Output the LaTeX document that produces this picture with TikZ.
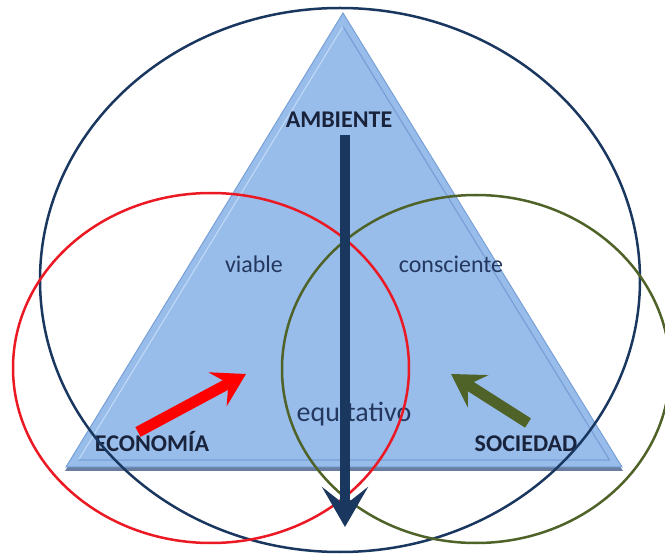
\documentclass[tikz,border=0pt]{standalone}
\usepackage{fontspec}
\setmainfont{Carlito}
\usetikzlibrary{calc,arrows.meta}

\definecolor{triFill}{RGB}{153,189,234}
\definecolor{triEdge}{RGB}{120,160,215}
\definecolor{triLight}{RGB}{190,215,245}
\definecolor{triShade}{RGB}{105,125,160}
\definecolor{navy}{RGB}{25,55,95}
\definecolor{ringRed}{RGB}{235,25,35}
\definecolor{ringGreen}{RGB}{79,98,40}
\definecolor{ink}{RGB}{25,35,60}
\definecolor{softInk}{RGB}{35,55,95}

\tikzset{
  ring/.style={line width=2.5pt},
  bold label/.style={font=\fontsize{24}{28}\selectfont\bfseries, text=ink, inner sep=0pt, anchor=base},
  soft label/.style={font=\fontsize{24}{28}\selectfont, text=softInk, inner sep=0pt, anchor=base},
}

\begin{document}
\begin{tikzpicture}[x=1pt, y=-1pt]
  \useasboundingbox (0,0) rectangle (665,556);
  % esquinas del triangulo y su incentro
  \coordinate (T) at (343,13);
  \coordinate (L) at (66,467);
  \coordinate (R) at (622,467);
  \coordinate (I) at (343.5,311);
  % sombra, cuerpo y bisel
  \fill[triShade] ($(L)+(-1,4)$) -- ($(R)+(1,4)$) -- ($(T)+(0,4)$) -- cycle;
  \fill[triFill, draw=triEdge, line width=1pt] (L) -- (R) -- (T) -- cycle;
  \draw[triLight, line width=1.2pt] ($(I)!0.955!(L)$) -- ($(I)!0.955!(T)$);
  \draw[triEdge, line width=1.2pt] ($(I)!0.955!(T)$) -- ($(I)!0.955!(R)$) -- ($(I)!0.955!(L)$);

  % textos
  \node[bold label] (ambiente) at (339,128) {AMBIENTE};
  \node[bold label] (economia) at (152,452) {ECONOMÍA};
  \node[bold label] (sociedad) at (526,452) {SOCIEDAD};
  \node[soft label] (viable) at (254,273) {viable};
  \node[soft label] (consciente) at (451,273) {consciente};
  \node[soft label, font=\fontsize{28}{32}\selectfont] (equitativo) at (354,422) {equitativo};

  % anillos
  \coordinate (cA) at (340,280);
  \coordinate (cE) at (211,368);
  \coordinate (cS) at (476,369);
  \draw[ring, navy] (cA) ellipse [x radius=300, y radius=272];
  \draw[ring, ringRed] (cE) ellipse [x radius=198, y radius=175];
  \draw[ring, ringGreen] (cS) ellipse [x radius=194, y radius=174];

  % flechas
  \coordinate (a1) at (345,135);
  \coordinate (a2) at (345,527);
  \coordinate (e1) at (138,432);
  \coordinate (e2) at (246,374);
  \coordinate (s1) at (528,423);
  \coordinate (s2) at (451,374);
  \draw[navy, line width=10pt, -{Stealth[length=40pt, width=46pt, inset=18pt]}] (a1) -- (a2);
  \draw[red, line width=11pt, -{Stealth[length=32pt, width=38pt, inset=12pt]}] (e1) -- (e2);
  \draw[ringGreen, line width=11pt, -{Stealth[length=32pt, width=38pt, inset=12pt]}] (s1) -- (s2);
\end{tikzpicture}
\end{document}
